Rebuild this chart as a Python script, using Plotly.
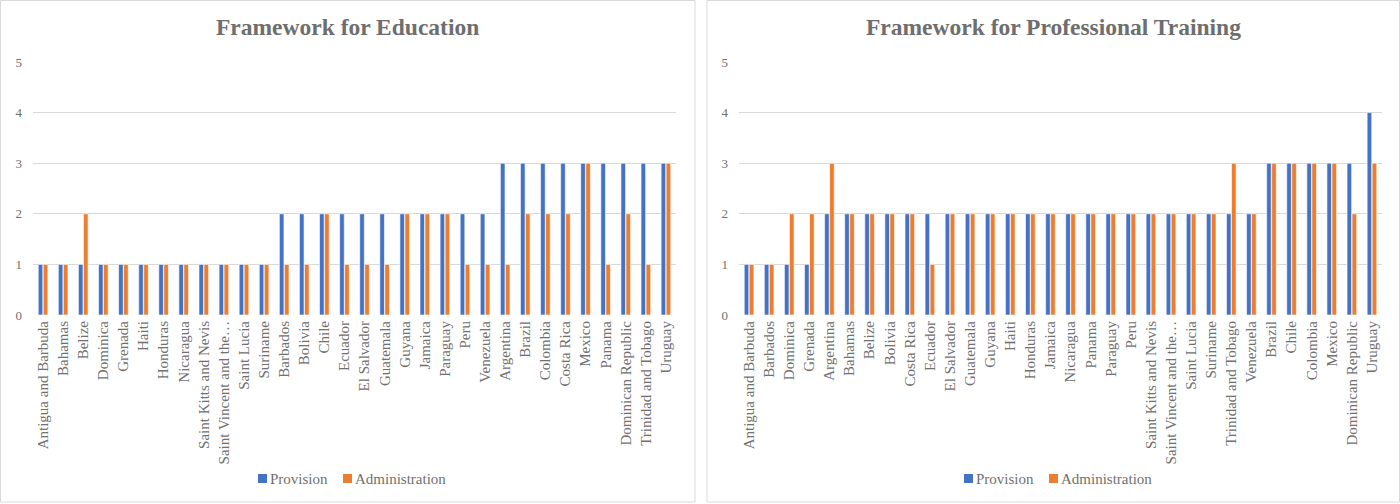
import plotly.graph_objects as go

# Framework for Education
edu_countries = [
    "Antigua and Barbuda", "Bahamas", "Belize", "Dominica", "Grenada", "Haiti",
    "Honduras", "Nicaragua", "Saint Kitts and Nevis", "Saint Vincent and the…",
    "Saint Lucia", "Suriname", "Barbados", "Bolivia", "Chile", "Ecuador",
    "El Salvador", "Guatemala", "Guyana", "Jamaica", "Paraguay", "Peru",
    "Venezuela", "Argentina", "Brazil", "Colombia", "Costa Rica", "Mexico",
    "Panama", "Dominican Republic", "Trinidad and Tobago", "Uruguay",
]
edu_provision = [1, 1, 1, 1, 1, 1, 1, 1, 1, 1, 1, 1, 2, 2, 2, 2,
                 2, 2, 2, 2, 2, 2, 2, 3, 3, 3, 3, 3, 3, 3, 3, 3]
edu_administration = [1, 1, 2, 1, 1, 1, 1, 1, 1, 1, 1, 1, 1, 1, 2, 1,
                      1, 1, 2, 2, 2, 1, 1, 1, 2, 2, 2, 3, 1, 2, 1, 3]

# Framework for Professional Training
trn_countries = [
    "Antigua and Barbuda", "Barbados", "Dominica", "Grenada", "Argentina",
    "Bahamas", "Belize", "Bolivia", "Costa Rica", "Ecuador", "El Salvador",
    "Guatemala", "Guyana", "Haiti", "Honduras", "Jamaica", "Nicaragua",
    "Panama", "Paraguay", "Peru", "Saint Kitts and Nevis",
    "Saint Vincent and the…", "Saint Lucia", "Suriname", "Trinidad and Tobago",
    "Venezuela", "Brazil", "Chile", "Colombia", "Mexico", "Dominican Republic",
    "Uruguay",
]
trn_provision = [1, 1, 1, 1, 2, 2, 2, 2, 2, 2, 2, 2, 2, 2, 2, 2,
                 2, 2, 2, 2, 2, 2, 2, 2, 2, 2, 3, 3, 3, 3, 3, 4]
trn_administration = [1, 1, 2, 2, 3, 2, 2, 2, 2, 1, 2, 2, 2, 2, 2, 2,
                      2, 2, 2, 2, 2, 2, 2, 2, 3, 2, 3, 3, 3, 3, 2, 3]

y_ticks = [0, 1, 2, 3, 4, 5]
titles = ["Framework for Education", "Framework for Professional Training"]
series_names = ["Provision", "Administration"]

BLUE = "#4472C4"
ORANGE = "#ED7D31"
GRID = "#D9D9D9"
TEXT = "#707070"
TITLE = "#6E6E6E"
FONT = "'Liberation Serif', 'Times New Roman', 'DejaVu Serif', serif"

W, H = 1400, 504


def px_x(v):
    return v / W


def px_y(v):
    return 1 - v / H


fig = go.Figure()

panels = [
    dict(cats=edu_countries, prov=edu_provision, adm=edu_administration,
         xa="x", ya="y", box=(0.5, 695), plot=(33, 676), shift=0),
    dict(cats=trn_countries, prov=trn_provision, adm=trn_administration,
         xa="x2", ya="y2", box=(707, 1399.5), plot=(739, 1382), shift=706),
]

for p in panels:
    for name, vals, col in ((series_names[0], p["prov"], BLUE),
                            (series_names[1], p["adm"], ORANGE)):
        fig.add_trace(go.Bar(
            x=p["cats"], y=vals, name=name, marker_color=col,
            marker_line=dict(color="white", width=0.6),
            xaxis=p["xa"], yaxis=p["ya"], showlegend=False,
        ))

axis_common_x = dict(
    type="category", showgrid=False, showline=False, zeroline=False,
    automargin=False, tickangle=-90, ticks="",
    tickfont=dict(family=FONT, size=15, color=TEXT), ticklabelstandoff=2,
)
axis_common_y = dict(
    range=[0, 5], tickvals=y_ticks, showgrid=True, gridcolor=GRID, gridwidth=1,
    zeroline=False, showline=False, ticks="", automargin=False,
    tickfont=dict(family=FONT, size=13, color=TEXT), ticklabelstandoff=10,
)

y_dom = [px_y(315), px_y(62)]
layout_axes = {}
for i, p in enumerate(panels):
    suffix = "" if i == 0 else "2"
    layout_axes["xaxis" + suffix] = dict(
        axis_common_x, domain=[px_x(p["plot"][0]), px_x(p["plot"][1])],
        anchor="y" + suffix,
    )
    layout_axes["yaxis" + suffix] = dict(
        axis_common_y, domain=y_dom, anchor="x" + suffix,
    )

shapes = []
annotations = []
for i, p in enumerate(panels):
    x0, x1 = p["box"]
    s = p["shift"]
    # chart frame
    shapes.append(dict(
        type="rect", xref="paper", yref="paper",
        x0=px_x(x0), x1=px_x(x1), y0=px_y(502), y1=px_y(0.5),
        line=dict(color=GRID, width=1), fillcolor="rgba(0,0,0,0)", layer="below",
    ))
    # chart title
    annotations.append(dict(
        text="<b>" + titles[i] + "</b>", xref="paper", yref="paper",
        x=px_x((x0 + x1) / 2), y=px_y(27), xanchor="center", yanchor="middle",
        showarrow=False, font=dict(family=FONT, size=23.5, color=TITLE),
    ))
    # legend: colour swatch followed by series name
    for sq_x, col, name in ((258, BLUE, series_names[0]),
                            (343, ORANGE, series_names[1])):
        shapes.append(dict(
            type="rect", xref="paper", yref="paper",
            x0=px_x(sq_x + s), x1=px_x(sq_x + s + 9),
            y0=px_y(483), y1=px_y(474),
            line=dict(width=0), fillcolor=col,
        ))
        annotations.append(dict(
            text=name, xref="paper", yref="paper",
            x=px_x(sq_x + s + 10), y=px_y(478.5), xanchor="left",
            yanchor="middle", showarrow=False,
            font=dict(family=FONT, size=15, color=TEXT),
        ))

fig.update_layout(
    width=W, height=H, margin=dict(l=0, r=0, t=0, b=0, autoexpand=False),
    paper_bgcolor="white", plot_bgcolor="white",
    barmode="group", bargap=0.5, bargroupgap=0.08,
    showlegend=False, shapes=shapes, annotations=annotations,
    font=dict(family=FONT, color=TEXT),
    **layout_axes,
)

fig.write_html("out.html")
